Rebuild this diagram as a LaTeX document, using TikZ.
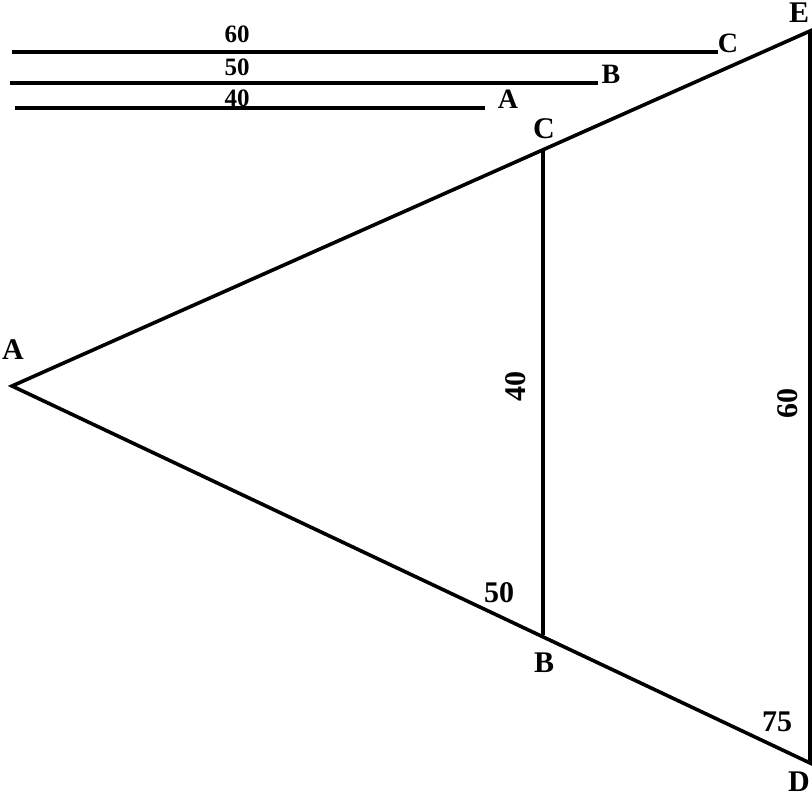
\documentclass[tikz,border=0pt]{standalone}
\usepackage{fontspec}
\setmainfont{Liberation Serif}
\usepackage{tikz}

\begin{document}
\begin{tikzpicture}[x=0.5pt, y=-0.5pt, line width=1.8pt,
	lbl/.style={inner sep=0pt, font=\fontsize{15}{18}\selectfont\bfseries},
	toplbl/.style={inner sep=0pt, font=\fontsize{12.5}{15}\selectfont\bfseries},
	topltr/.style={inner sep=0pt, font=\fontsize{14}{17}\selectfont\bfseries}]
			%%%%% START %%%%%
			\useasboundingbox (0, 0) rectangle (812, 798);
			
			% the three sticks
			\coordinate (s60a) at (12, 52);
			\coordinate (s60b) at (718, 52);
			\coordinate (s50a) at (10, 83);
			\coordinate (s50b) at (598, 83);
			\coordinate (s40a) at (15, 108);
			\coordinate (s40b) at (485, 108);
			\draw (s60a) -- (s60b);
			\draw (s50a) -- (s50b);
			\draw (s40a) -- (s40b);
			
			\node[toplbl] (t60) at (237, 34) {60};
			\node[toplbl] (t50) at (237, 67) {50};
			\node[toplbl] (t40) at (237, 98) {40};
			\node[topltr] (tC) at (728, 43) {C};
			\node[topltr] (tB) at (611, 74) {B};
			\node[topltr] (tA) at (508, 99) {A};
			
			% the two triangles
			\coordinate (A) at (12, 386);
			\coordinate (E) at (810, 31);
			\coordinate (D) at (810, 763);
			\coordinate (C) at (543, 149);
			\coordinate (B) at (543, 635);
			\draw[line join=miter] (A) -- (E) -- (D) -- cycle;
			\draw (C) -- (B);
			
			\node[lbl] (nA) at (13, 350) {A};
			\node[lbl] (nC) at (544, 129) {C};
			\node[lbl] (nB) at (544, 663) {B};
			\node[lbl] (nD) at (799, 782) {D};
			\node[lbl] (nE) at (799, 13) {E};
			\node[lbl] (n50) at (499, 593) {50};
			\node[lbl] (n75) at (777, 722) {75};
			\node[lbl, rotate=90] (n40) at (516, 386) {40};
			\node[lbl, rotate=90] (n60) at (788, 403) {60};
			
			%%%%% END %%%%%
		\end{tikzpicture}
\end{document}
